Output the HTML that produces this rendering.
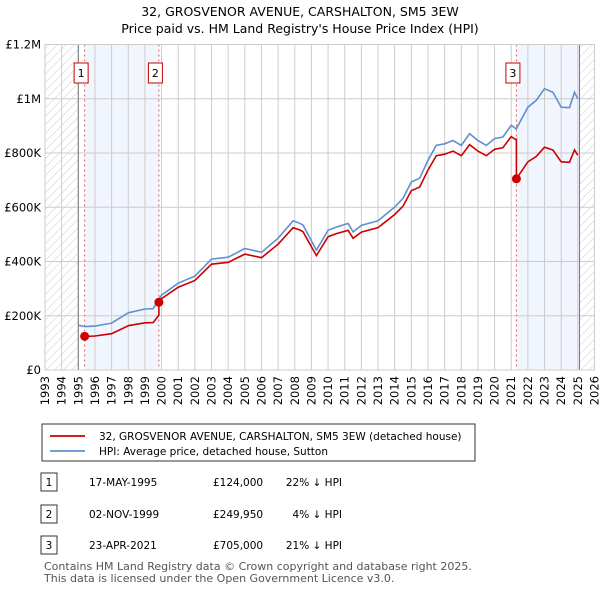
<!DOCTYPE html>
<html><head><meta charset="utf-8"><style>
body{margin:0;background:#fff;font-family:"Liberation Sans",sans-serif;color:#222}
svg text{font-family:"DejaVu Sans","Liberation Sans",sans-serif}
</style></head><body>
<svg id="c" width="600" height="590" viewBox="0 0 600 590" xmlns="http://www.w3.org/2000/svg">
<defs><pattern id="hatch" width="6" height="6" patternUnits="userSpaceOnUse" patternTransform="rotate(45)"><line x1="0" y1="0" x2="0" y2="6" stroke="#ccc" stroke-width="1"/></pattern></defs>
<text x="300" y="16" text-anchor="middle" font-size="12.5">32, GROSVENOR AVENUE, CARSHALTON, SM5 3EW</text>
<text x="300" y="33" text-anchor="middle" font-size="12.5">Price paid vs. HM Land Registry's House Price Index (HPI)</text>
<g id="plot"></g>
<g>
<rect x="42" y="424" width="433" height="37" fill="#fff" stroke="#333" stroke-width="1"/>
<line x1="50" y1="436" x2="85" y2="436" stroke="#cc0000" stroke-width="1.8"/>
<text x="99" y="440" font-size="10.5">32, GROSVENOR AVENUE, CARSHALTON, SM5 3EW (detached house)</text>
<line x1="50" y1="451" x2="85" y2="451" stroke="#6090d0" stroke-width="1.8"/>
<text x="99" y="455" font-size="10.5">HPI: Average price, detached house, Sutton</text>
</g>
<g id="table" font-size="10.5"></g>
<text x="44" y="570" font-size="11" fill="#555">Contains HM Land Registry data © Crown copyright and database right 2025.</text>
<text x="44" y="582" font-size="11" fill="#555">This data is licensed under the Open Government Licence v3.0.</text>
</svg>
<script>
const hpiYears=[1995.0,1995.4,1996,1997,1998,1999,1999.5,1999.84,2000,2001,2002,2003,2004,2005,2006,2007,2007.9,2008.3,2008.5,2009.3,2010,2010.5,2011.2,2011.5,2012,2013,2014,2014.5,2015,2015.5,2016,2016.5,2017,2017.5,2018,2018.5,2019,2019.5,2020,2020.5,2021,2021.3,2022,2022.5,2023,2023.5,2024,2024.5,2024.8,2025];
const hpiValues=[165,160,162,173,211,225,226,262,276,320,346,409,416,448,434,486,550,541,534,442,515,527,540,509,533,550,601,633,693,707,773,828,834,846,828,871,846,828,853,859,902,889,969,994,1037,1024,969,967,1024,1000];
const saleLabels=["1","2","3"];
const saleYears=[1995.38,1999.84,2021.31];
const salePrices=[124000,249950,705000];
const saleDates=["17-MAY-1995","02-NOV-1999","23-APR-2021"];
const salePriceText=["£124,000","£249,950","£705,000"];
const saleDiffText=["22% ↓ HPI","4% ↓ HPI","21% ↓ HPI"];
const yTicks=[0,200000,400000,600000,800000,1000000,1200000];
const yTickLabels=["£0","£200K","£400K","£600K","£800K","£1M","£1.2M"];
const xTicks=[1993,1994,1995,1996,1997,1998,1999,2000,2001,2002,2003,2004,2005,2006,2007,2008,2009,2010,2011,2012,2013,2014,2015,2016,2017,2018,2019,2020,2021,2022,2023,2024,2025,2026];

const NS="http://www.w3.org/2000/svg";
const X0=45,X1=594.5,Y0=370,Y1=44.5;
const xs=y=>X0+(y-1993)/33*(X1-X0);
const ys=v=>Y0-v/1200000*(Y0-Y1);
const g=document.getElementById('plot');
function mk(tag,a,p){const e=document.createElementNS(NS,tag);for(const k in a)e.setAttribute(k,a[k]);(p||g).appendChild(e);return e;}
function hpiAt(t){for(let i=1;i<hpiYears.length;i++){if(t<=hpiYears[i]){const f=(t-hpiYears[i-1])/(hpiYears[i]-hpiYears[i-1]);return (hpiValues[i-1]+f*(hpiValues[i]-hpiValues[i-1]))*1000;}}return hpiValues[hpiValues.length-1]*1000;}
let e=mk('rect',{x:xs(1993),y:Y1,width:xs(1995)-xs(1993),height:Y0-Y1,fill:'url(#hatch)'});

e=mk('rect',{x:xs(2025.1),y:Y1,width:X1-xs(2025.1),height:Y0-Y1,fill:'url(#hatch)'});

e=mk('rect',{x:xs(saleYears[0]),y:Y1,width:xs(saleYears[1])-xs(saleYears[0]),height:Y0-Y1,fill:'#eef3fc',opacity:0.8});

e=mk('rect',{x:xs(saleYears[2]),y:Y1,width:xs(2025.1)-xs(saleYears[2]),height:Y0-Y1,fill:'#eef3fc',opacity:0.8});

yTicks.forEach((v,i)=>{const l=mk('line',{x1:X0,x2:X1,y1:ys(v),y2:ys(v),stroke:'#ccc'});

const t=mk('text',{x:X0-4,y:ys(v)+4,'text-anchor':'end','font-size':11.5});t.textContent=yTickLabels[i];
});
xTicks.forEach(y=>{const l=mk('line',{x1:xs(y),x2:xs(y),y1:Y1,y2:Y0,stroke:'#ccc'});

const t=mk('text',{x:0,y:0,'text-anchor':'end','font-size':11.5,transform:`translate(${xs(y)+4},${Y0+6}) rotate(-90)`});t.textContent=y;
});
[1995,2025.1].forEach(y=>{const l=mk('line',{x1:xs(y),x2:xs(y),y1:Y1,y2:Y0,stroke:'#777'});
});
saleYears.forEach((y,i)=>{const l=mk('line',{x1:xs(y),x2:xs(y),y1:Y1,y2:Y0,stroke:'#e06060','stroke-dasharray':'2,3'});

const bx=xs(y)-3.5;
const r=mk('rect',{x:bx-7,y:63,width:14,height:20,fill:'#fff',stroke:'#cc0000'});

const t=mk('text',{x:bx,y:77,'text-anchor':'middle','font-size':11});t.textContent=saleLabels[i];
});
let d='';hpiYears.forEach((y,i)=>{d+=(i?'L':'M')+xs(y).toFixed(1)+','+ys(hpiValues[i]*1000).toFixed(1);});
e=mk('path',{d:d,fill:'none',stroke:'#6090d0','stroke-width':1.6});

let pd='';
saleYears.forEach((sy,i)=>{const ratio=salePrices[i]/hpiAt(sy);const end=i<saleYears.length-1?saleYears[i+1]:2025;
const pts=[sy].concat(hpiYears.filter(t=>t>sy&&t<end),[end]);
pts.forEach((t)=>{const v=hpiAt(t)*ratio;pd+=(pd===''?'M':'L')+xs(t).toFixed(1)+','+ys(v).toFixed(1);});
if(i<saleYears.length-1)pd+='L'+xs(saleYears[i+1]).toFixed(1)+','+ys(salePrices[i+1]).toFixed(1);});
e=mk('path',{d:pd,fill:'none',stroke:'#cc0000','stroke-width':1.6});

saleYears.forEach((y,i)=>{const c=mk('circle',{cx:xs(y),cy:ys(salePrices[i]),r:4.5,fill:'#cc0000'});
});
e=mk('rect',{x:X0,y:Y1,width:X1-X0,height:Y0-Y1,fill:'none',stroke:'#ccc'});

const tg=document.getElementById('table');
const rowY=[482,514,545];
saleLabels.forEach((lb,i)=>{const y=rowY[i];
const r=mk('rect',{x:41,y:y-9,width:16,height:18,fill:'#fff',stroke:'#333'},tg);

const cells=[[49,lb,'middle'],[89,saleDates[i],'start'],[213,salePriceText[i],'start'],[342,saleDiffText[i],'end']];
cells.forEach(c=>{const t=mk('text',{x:c[0],y:y+4,'text-anchor':c[2],'font-size':10.5},tg);t.textContent=c[1];
});});
</script>
</body></html>
